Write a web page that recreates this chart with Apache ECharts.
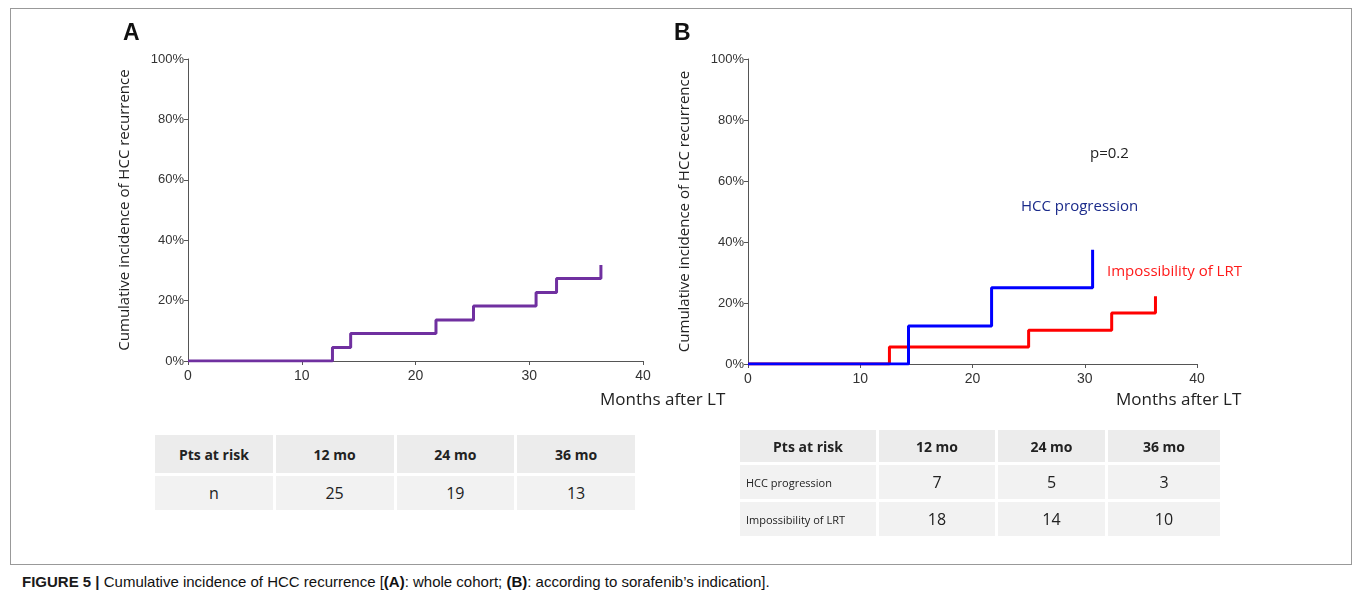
<!DOCTYPE html>
<html><head><meta charset="utf-8">
<script src="https://cdn.jsdelivr.net/npm/echarts@6/dist/echarts.min.js"></script>
<style>
body{margin:0;background:#fff;font-family:"Open Sans",sans-serif}
#frame{position:absolute;left:10px;top:8px;width:1340px;height:555px;border:1px solid #999}
#main{position:absolute;left:0;top:0;width:1356px;height:430px}
table{position:absolute;border-collapse:separate;border-spacing:3px;table-layout:fixed;font-family:"Open Sans",sans-serif;color:#222}
td{background:#f2f2f2;text-align:center}
th{background:#ececec;font-weight:bold;font-size:14px}
#capt{position:absolute;left:22px;top:573px;font-family:"Liberation Sans",Arial;font-size:15px;color:#111}
</style></head><body>
<div id="frame"></div>
<div id="main"></div>
<table id="ta" style="left:152px;top:432px;width:486px">
<colgroup><col style="width:25%"><col style="width:25%"><col style="width:25%"><col style="width:25%"></colgroup>
<tr style="height:38px"><th>Pts at risk</th><th>12 mo</th><th>24 mo</th><th>36 mo</th></tr>
<tr style="height:34px;font-size:16px"><td>n</td><td>25</td><td>19</td><td>13</td></tr>
</table>
<table id="tb" style="left:737px;top:427px;width:486px">
<colgroup><col style="width:136px"><col style="width:116px"><col style="width:107px"><col style="width:112px"></colgroup>
<tr style="height:32px"><th>Pts at risk</th><th>12 mo</th><th>24 mo</th><th>36 mo</th></tr>
<tr style="height:34px;font-size:16px"><td style="font-size:11px;text-align:left;padding-left:6px">HCC progression</td><td>7</td><td>5</td><td>3</td></tr>
<tr style="height:34px;font-size:16px"><td style="font-size:11px;text-align:left;padding-left:6px">Impossibility of LRT</td><td>18</td><td>14</td><td>10</td></tr>
</table>
<div id="capt"><b style="color:#1a1a1a">FIGURE 5 |</b> Cumulative incidence of HCC recurrence [<b>(A)</b>: whole cohort; <b>(B)</b>: according to sorafenib’s indication].</div>
<script>
const wholeX = [0, 12.7, 14.3, 21.8, 25.1, 30.6, 32.4, 36.3, 36.3]
const wholeY = [0, 4.5, 9.1, 13.6, 18.2, 22.7, 27.3, 27.3, 31.8]
const hccX = [0, 14.3, 21.7, 30.7, 30.7]
const hccY = [0, 12.5, 25, 25, 37.5]
const lrtX = [0, 12.6, 25.0, 32.4, 36.3, 36.3]
const lrtY = [0, 5.6, 11.1, 16.7, 16.7, 22.2]

const pts = (xs, ys) => xs.map((x, i) => [x, ys[i]])
const chart = echarts.init(document.getElementById('main'))
const axisX = (g) => ({
  type: 'value', gridIndex: g, min: 0, max: 40, interval: 10,
  axisLine: { lineStyle: { color: '#555' } }, axisTick: { lineStyle: { color: '#555' }, length: 4 },
  axisLabel: { color: '#333', fontSize: 14, fontFamily: 'Liberation Sans' }, splitLine: { show: false }
})
const axisY = (g) => ({
  type: 'value', gridIndex: g, min: 0, max: 100, interval: 20,
  axisLine: { show: true, lineStyle: { color: '#555' } }, axisTick: { show: true, length: 4, lineStyle: { color: '#555' } },
  axisLabel: { color: '#333', fontSize: 13, fontFamily: 'Liberation Sans', formatter: '{value}%', margin: 4 }, splitLine: { show: false },
  name: 'Cumulative incidence of HCC recurrence', nameLocation: 'middle', nameGap: 56, nameRotate: 90,
  nameTextStyle: { fontSize: 15, color: '#222', fontFamily: 'Open Sans' }
})
chart.setOption({
  animation: false,
  grid: [
    { left: 188, top: 59, width: 455, height: 302 },
    { left: 748, top: 59, width: 449, height: 305 }
  ],
  xAxis: [axisX(0), axisX(1)],
  yAxis: [axisY(0), axisY(1)],
  graphic: [
    { type: 'text', left: 123, top: 22, style: { text: 'A', font: 'bold 23px Liberation Sans', fill: '#111' } },
    { type: 'text', left: 674, top: 22, style: { text: 'B', font: 'bold 23px Liberation Sans', fill: '#111' } },
    { type: 'text', left: 600, top: 392, style: { text: 'Months after LT', font: '17px Open Sans', fill: '#222' } },
    { type: 'text', left: 1116, top: 392, style: { text: 'Months after LT', font: '17px Open Sans', fill: '#222' } },
    { type: 'text', left: 1090, top: 146, style: { text: 'p=0.2', font: '15px Open Sans', fill: '#222' } },
    { type: 'text', left: 1021, top: 199, style: { text: 'HCC progression', font: '15px Open Sans', fill: '#1a2a8a' } },
    { type: 'text', left: 1107, top: 264, style: { text: 'Impossibility of LRT', font: '15px Open Sans', fill: '#ff1a1a' } }
  ],
  series: [
    { type: 'line', step: 'end', xAxisIndex: 0, yAxisIndex: 0, data: pts(wholeX, wholeY), symbol: 'none', lineStyle: { color: '#7030a0', width: 3 } },
    { type: 'line', step: 'end', xAxisIndex: 1, yAxisIndex: 1, data: pts(lrtX, lrtY), symbol: 'none', lineStyle: { color: '#ff0000', width: 3 } },
    { type: 'line', step: 'end', xAxisIndex: 1, yAxisIndex: 1, data: pts(hccX, hccY), symbol: 'none', lineStyle: { color: '#0000ff', width: 3 } }
  ]
})
</script>
</body></html>
